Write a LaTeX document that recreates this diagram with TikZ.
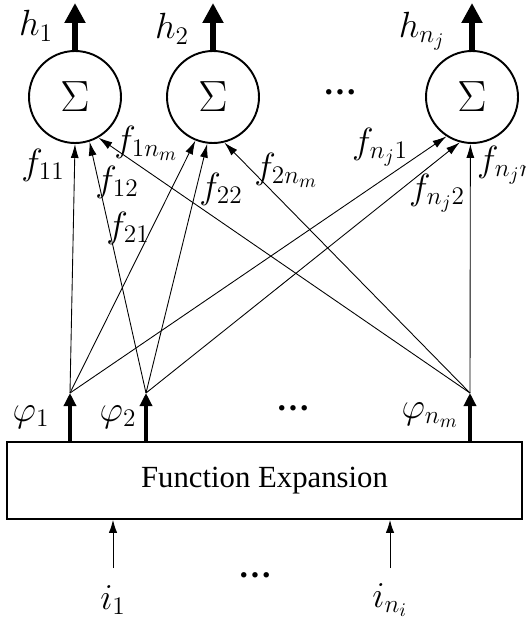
\documentclass[tikz,border=0pt]{standalone}
\usepackage{fontspec}
\newfontfamily\boxfont{Liberation Serif}
\usetikzlibrary{arrows.meta, positioning, shapes.geometric}

\begin{document}
\begin{tikzpicture}[
    sumnode/.style={circle, draw, line width=1.1pt, minimum size=1.84cm, inner sep=0pt, font=\fontsize{24}{28}\selectfont},
    lbl/.style={font=\fontsize{21}{24}\selectfont},
    dots/.style={font=\boxfont\bfseries\fontsize{19}{22}\selectfont},
    outarrow/.style={line width=3pt, -{Triangle[length=0.4cm, width=0.4cm]}},
    phiarrow/.style={line width=2.6pt, -{Triangle[length=0.26cm, width=0.24cm]}},
    weight/.style={line width=0.5pt, -{Latex[length=0.28cm, width=0.16cm]}},
    inarrow/.style={line width=0.5pt, -{Latex[length=0.26cm, width=0.17cm]}}
  ]
        % Khung hình
        \useasboundingbox (0,0) rectangle (10.5,-12.42);

        % Các nút tổng
        \node[sumnode] (c1) at (1.5,-1.94) {$\Sigma$};
        \node[sumnode] (c2) at (4.26,-1.94) {$\Sigma$};
        \node[sumnode] (c3) at (9.44,-1.94) {$\Sigma$};
        \node[dots] (dtop) at (6.8,-1.84) {…};

        % Đầu ra
        \coordinate (o1) at (1.5,-0.06);
        \coordinate (o2) at (4.26,-0.06);
        \coordinate (o3) at (9.44,-0.06);
        \draw[outarrow] (c1.north) -- (o1);
        \draw[outarrow] (c2.north) -- (o2);
        \draw[outarrow] (c3.north) -- (o3);
        \node[lbl] (h1) at (0.72,-0.52) {$h_1$};
        \node[lbl] (h2) at (3.44,-0.58) {$h_2$};
        \node[lbl] (hn) at (8.44,-0.62) {$h_{n_j}$};

        % Khối khai triển hàm
        \node[draw, line width=1.1pt, minimum width=10.3cm, minimum height=1.54cm, font=\boxfont\fontsize{17.5}{20}\selectfont] (fe) at (5.29,-9.61) {Function Expansion};

        % Các hàm cơ sở
        \coordinate (p1) at (1.4,-7.86);
        \coordinate (p2) at (2.92,-7.86);
        \coordinate (pm) at (9.4,-7.86);
        \draw[phiarrow] (fe.north -| p1) -- (p1);
        \draw[phiarrow] (fe.north -| p2) -- (p2);
        \draw[phiarrow] (fe.north -| pm) -- (pm);
        \node[lbl] (phi1) at (0.62,-8.34) {$\varphi_1$};
        \node[lbl] (phi2) at (2.36,-8.34) {$\varphi_2$};
        \node[lbl] (phim) at (8.6,-8.3) {$\varphi_{n_m}$};
        \node[dots] (dmid) at (5.86,-8.16) {…};

        % Các trọng số
        \draw[weight] (p1) -- (c1.-90);
        \draw[weight] (p1) -- (c2.-112);
        \draw[weight] (p1) -- (c3.-123);
        \draw[weight] (p2) -- (c1.-72);
        \draw[weight] (p2) -- (c2.-97);
        \draw[weight] (p2) -- (c3.-105);
        \draw[weight] (pm) -- (c1.-60);
        \draw[weight] (pm) -- (c2.-76);
        \draw[weight] (pm) -- (c3.-92);

        % Nhãn trọng số
        \node[lbl] (f11) at (0.86,-3.3) {$f_{11}$};
        \node[lbl] (f1m) at (2.92,-2.86) {$f_{1n_m}$};
        \node[lbl] (f12) at (2.34,-3.64) {$f_{12}$};
        \node[lbl] (f21) at (2.56,-4.56) {$f_{21}$};
        \node[lbl] (f22) at (4.42,-3.78) {$f_{22}$};
        \node[lbl] (f2m) at (5.72,-3.4) {$f_{2n_m}$};
        \node[lbl] (fn1) at (7.6,-2.94) {$f_{n_j1}$};
        \node[lbl] (fn2) at (8.74,-3.86) {$f_{n_j2}$};
        \node[lbl, anchor=west] (fnm) at (9.42,-3.3) {$f_{n_jn_m}$};

        % Đầu vào
        \coordinate (q1) at (2.26,-11.36);
        \coordinate (qn) at (7.8,-11.36);
        \draw[inarrow] (q1) -- (fe.south -| q1);
        \draw[inarrow] (qn) -- (fe.south -| qn);
        \node[lbl] (i1) at (2.26,-12.0) {$i_1$};
        \node[lbl] (in) at (7.8,-12.0) {$i_{n_i}$};
        \node[dots] (dbot) at (5.1,-11.5) {…};
    \end{tikzpicture}
\end{document}
